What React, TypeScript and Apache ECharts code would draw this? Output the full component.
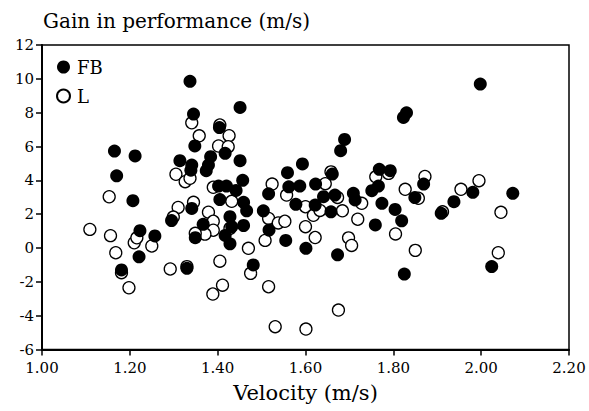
import React, { useEffect, useRef } from "react";
import * as echarts from "echarts";

const titleText = "Gain in performance (m/s)";
const xName = "Velocity (m/s)";
const seriesNames = ["FB", "L"];

const fbPoints: [number, number][] = [
  [1.165, 5.73], [1.17, 4.27], [1.212, 5.44], [1.207, 2.8], [1.223, 1.02],
  [1.257, 0.71], [1.221, -0.52], [1.181, -1.3], [1.295, 1.62], [1.314, 5.16],
  [1.337, 9.85], [1.345, 7.92], [1.348, 6.03], [1.341, 4.9], [1.339, 4.6],
  [1.341, 2.34], [1.367, 1.4], [1.349, 0.61], [1.33, -1.2], [1.384, 5.4],
  [1.379, 4.9], [1.374, 4.57], [1.404, 7.12], [1.417, 5.6], [1.402, 3.66],
  [1.42, 3.66], [1.442, 3.4], [1.405, 2.86], [1.459, 2.7], [1.466, 2.2],
  [1.428, 1.85], [1.459, 1.33], [1.432, 1.26], [1.417, 0.74], [1.428, 0.25],
  [1.481, -1.0], [1.451, 8.31], [1.451, 5.16], [1.457, 4.0], [1.593, 4.97],
  [1.559, 4.45], [1.562, 3.62], [1.587, 3.66], [1.516, 3.2], [1.623, 3.78],
  [1.661, 4.37], [1.641, 3.03], [1.667, 3.13], [1.709, 3.23], [1.713, 2.84],
  [1.578, 2.58], [1.622, 2.54], [1.658, 2.14], [1.504, 2.2], [1.517, 1.06],
  [1.555, 0.45], [1.601, -0.02], [1.673, -0.4], [1.689, 6.42], [1.68, 5.75],
  [1.768, 4.65], [1.793, 4.57], [1.766, 3.66], [1.751, 3.39], [1.774, 2.64],
  [1.804, 2.28], [1.819, 1.61], [1.759, 1.36], [1.849, 2.98], [1.869, 3.78],
  [1.909, 2.05], [1.938, 2.74], [1.823, 7.72], [1.83, 7.99], [1.998, 9.69],
  [1.981, 3.29], [2.072, 3.23], [2.024, -1.1], [1.825, -1.54]
];

const lPoints: [number, number][] = [
  [1.109, 1.1], [1.153, 3.03], [1.156, 0.73], [1.168, -0.28], [1.181, -1.46],
  [1.198, -2.35], [1.21, 0.31], [1.216, 0.6], [1.25, 0.12], [1.292, -1.24],
  [1.31, 2.4], [1.299, 1.83], [1.305, 4.36], [1.326, 3.92], [1.337, 4.12],
  [1.341, 7.4], [1.358, 6.63], [1.405, 7.27], [1.426, 6.64], [1.402, 6.03],
  [1.424, 5.99], [1.39, 3.59], [1.345, 2.7], [1.379, 2.12], [1.39, 1.58],
  [1.39, 1.05], [1.371, 0.82], [1.349, 0.87], [1.432, 2.76], [1.428, 1.16],
  [1.47, -0.02], [1.405, -0.78], [1.411, -2.2], [1.389, -2.72], [1.33, -1.1],
  [1.475, -1.5], [1.516, -2.29], [1.531, -4.65], [1.601, -4.79], [1.675, -3.67],
  [1.658, 4.5], [1.524, 3.78], [1.557, 3.13], [1.645, 3.8], [1.6, 2.44],
  [1.618, 1.93], [1.633, 2.22], [1.684, 2.2], [1.719, 1.7], [1.516, 1.75],
  [1.538, 1.48], [1.553, 1.58], [1.6, 1.26], [1.622, 0.62], [1.508, 0.45],
  [1.698, 0.6], [1.705, 0.15], [1.673, 2.99], [1.728, 2.64], [1.76, 4.21],
  [1.789, 4.41], [1.827, 3.47], [1.857, 2.94], [1.872, 4.23], [1.954, 3.47],
  [1.912, 2.14], [1.805, 0.83], [1.85, -0.14], [1.995, 3.98], [2.045, 2.11],
  [2.039, -0.28]
];

const xMin = 1.0, xMax = 2.2, xStep = 0.2;
const yMin = -6, yMax = 12, yStep = 2;

const FONT = "DejaVu Serif";

export default function App() {
  const ref = useRef<HTMLDivElement>(null);
  useEffect(() => {
    if (!ref.current) return;
    const chart = echarts.init(ref.current, undefined, { renderer: "svg" });
    chart.setOption({
      animation: false,
      backgroundColor: "#ffffff",
      textStyle: { fontFamily: FONT },
      title: {
        text: titleText,
        left: 38,
        top: 6,
        textStyle: { fontFamily: FONT, fontSize: 20, fontWeight: "normal", color: "#000" }
      },
      legend: {
        orient: "vertical",
        left: 51,
        top: 53,
        itemWidth: 13,
        itemHeight: 13,
        itemGap: 11,
        icon: "circle",
        data: seriesNames,
        textStyle: { fontFamily: FONT, fontSize: 18, color: "#000", padding: [0, 0, 0, 2] }
      },
      grid: { left: 42, right: 20, top: 45, bottom: 61.5, show: true, borderColor: "#000", borderWidth: 1.5, backgroundColor: "transparent" },
      xAxis: {
        type: "value",
        min: xMin,
        max: xMax,
        interval: xStep,
        name: xName,
        nameLocation: "middle",
        nameGap: 33,
        nameTextStyle: { fontFamily: FONT, fontSize: 21, color: "#000" },
        axisLine: { show: true, onZero: false, lineStyle: { color: "#000", width: 2 } },
        axisTick: { show: true, length: 6, lineStyle: { color: "#000", width: 1.5 } },
        axisLabel: { margin: 11, fontFamily: FONT, fontSize: 15, color: "#000", formatter: (v: number) => v.toFixed(2) },
        splitLine: { show: false }
      },
      yAxis: {
        type: "value",
        min: yMin,
        max: yMax,
        interval: yStep,
        axisLine: { show: true, onZero: false, lineStyle: { color: "#000", width: 2 } },
        axisTick: { show: true, length: 6, lineStyle: { color: "#000", width: 1.5 } },
        axisLabel: { margin: 8, fontFamily: FONT, fontSize: 15, color: "#000" },
        splitLine: { show: false }
      },
      series: [
        {
          name: seriesNames[1],
          type: "scatter",
          symbol: "circle",
          symbolSize: 12,
          z: 2,
          itemStyle: { color: "#ffffff", borderColor: "#000", borderWidth: 1.3, opacity: 1 },
          data: lPoints
        },
        {
          name: seriesNames[0],
          type: "scatter",
          symbol: "circle",
          symbolSize: 13,
          z: 3,
          itemStyle: { color: "#000000", borderColor: "#000", borderWidth: 0, opacity: 1 },
          data: fbPoints
        }
      ]
    });
    return () => chart.dispose();
  }, []);
  return <div ref={ref} style={{ width: 589, height: 411, position: "absolute", left: 0, top: 0 }} />;
}
